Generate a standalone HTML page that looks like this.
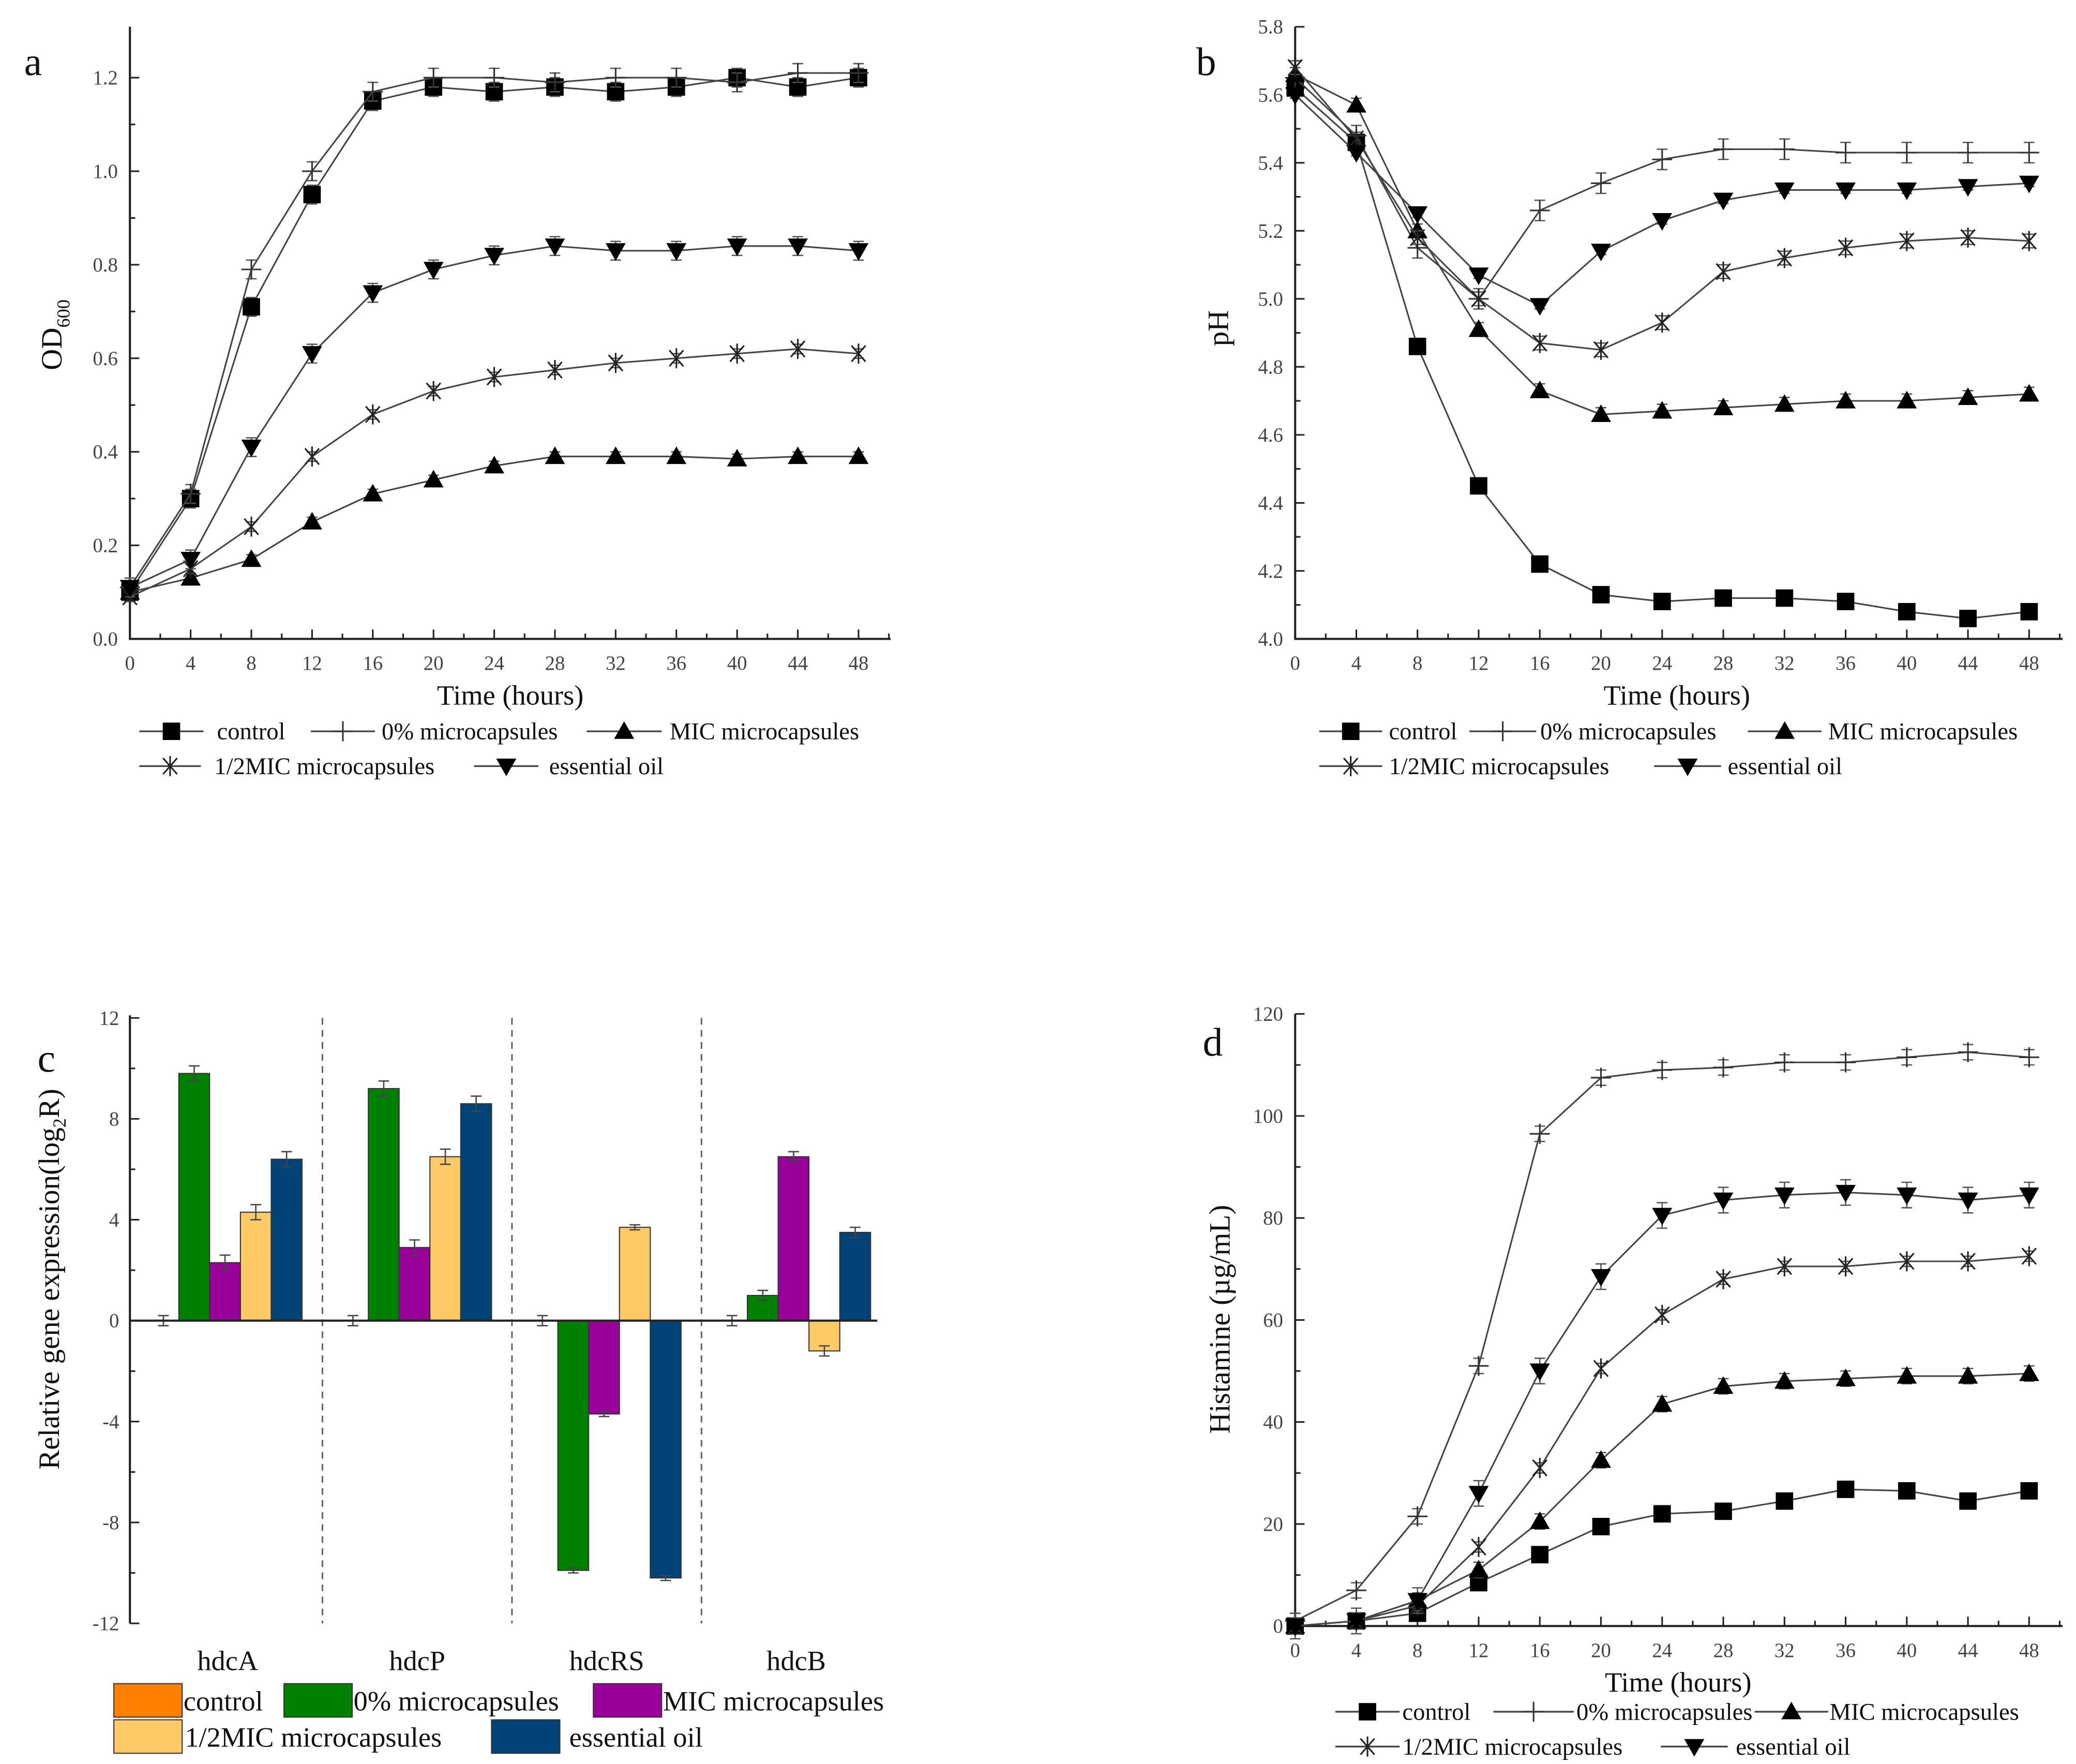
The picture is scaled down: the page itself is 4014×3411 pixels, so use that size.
<!DOCTYPE html>
<html><head><meta charset="utf-8"><style>
html,body{margin:0;padding:0;background:#fff;}
svg{display:block;font-family:"Liberation Serif",serif;}
</style></head><body>
<svg id="fig" width="4014" height="3411" viewBox="0 0 1550 1317" preserveAspectRatio="none" xmlns="http://www.w3.org/2000/svg"></svg>
<script>
// ---- shared data ----
const hours = [0,4,8,12,16,20,24,28,32,36,40,44,48];
const seriesNames = ["control","0% microcapsules","MIC microcapsules","1/2MIC microcapsules","essential oil"];
const markerTypes = ["square","plus","tri","star","down"];
// panel a: OD600
const odControl = [0.10,0.30,0.71,0.95,1.15,1.18,1.17,1.18,1.17,1.18,1.20,1.18,1.20];
const odZero = [0.11,0.31,0.79,1.00,1.17,1.20,1.20,1.19,1.20,1.20,1.19,1.21,1.21];
const odMIC = [0.10,0.13,0.17,0.25,0.31,0.34,0.37,0.39,0.39,0.39,0.385,0.39,0.39];
const odHalf = [0.09,0.15,0.24,0.39,0.48,0.53,0.56,0.575,0.59,0.60,0.61,0.62,0.61];
const odEO = [0.11,0.17,0.41,0.61,0.74,0.79,0.82,0.84,0.83,0.83,0.84,0.84,0.83];
const odErr = [0.02,0.02,0.01,0.01,0.02];
const odTicks = ["0.0","0.2","0.4","0.6","0.8","1.0","1.2"];
// panel b: pH
const phControl = [5.62,5.46,4.86,4.45,4.22,4.13,4.11,4.12,4.12,4.11,4.08,4.06,4.08];
const phZero = [5.65,5.48,5.15,5.00,5.26,5.34,5.41,5.44,5.44,5.43,5.43,5.43,5.43];
const phMIC = [5.66,5.57,5.20,4.91,4.73,4.66,4.67,4.68,4.69,4.70,4.70,4.71,4.72];
const phHalf = [5.68,5.47,5.18,5.00,4.87,4.85,4.93,5.08,5.12,5.15,5.17,5.18,5.17];
const phEO = [5.60,5.43,5.25,5.07,4.98,5.14,5.23,5.29,5.32,5.32,5.32,5.33,5.34];
const phErr = [0.02,0.03,0.02,0.02,0.01];
const phTicks = ["4.0","4.2","4.4","4.6","4.8","5.0","5.2","5.4","5.6","5.8"];
// panel c: gene expression
const genes = ["hdcA","hdcP","hdcRS","hdcB"];
const geneControl = [0,0,0,0];
const geneZero = [9.8,9.2,-9.9,1.0];
const geneMIC = [2.3,2.9,-3.7,6.5];
const geneHalf = [4.3,6.5,3.7,-1.2];
const geneEO = [6.4,8.6,-10.2,3.5];
const geneErr = [0.3,0.3,0.1,0.2];
const geneTicks = [-12,-8,-4,0,4,8,12];
const barColors = ["#FF8000","#008000","#990099","#FFC966","#004477"];
// panel d: histamine
const hisControl = [0,1,2.5,8.5,14,19.5,22,22.5,24.5,26.8,26.5,24.5,26.5];
const hisZero = [1,7,21.5,51,96.5,107.5,109,109.5,110.5,110.5,111.5,112.5,111.5];
const hisMIC = [0,1,5,11,20.5,32.5,43.5,47,48,48.5,49,49,49.5];
const hisHalf = [0,1,4,15.5,31,50.5,61,68,70.5,70.5,71.5,71.5,72.5];
const hisEO = [0,1,5,26,50,68.5,80.5,83.5,84.5,85,84.5,83.5,84.5];
const hisErr = [1,1.5,1.5,1,2.5];
const hisTicks = [0,20,40,60,80,100,120];

const NS="http://www.w3.org/2000/svg";
const svg=document.getElementById('fig');
function mk(tag,attrs,parent){const e=document.createElementNS(NS,tag);for(const k in attrs)e.setAttribute(k,attrs[k]);(parent||svg).appendChild(e);return e;}
function txt(s,x,y,size,anchor,parent,extra){const t=mk('text',Object.assign({x:x,y:y,'font-size':size,'text-anchor':anchor||'start',fill:'#111'},extra||{}),parent);t.textContent=s;return t;}

function marker(type,x,y,g){
  const r=7.5;
  if(type==='square'){const m=mk('rect',{x:x-r+1,y:y-r+1,width:2*r-2,height:2*r-2,fill:'#000'},g);}
  else if(type==='tri'){const m=mk('polygon',{points:`${x},${y-r} ${x-r},${y+r*0.75} ${x+r},${y+r*0.75}`,fill:'#000'},g);}
  else if(type==='down'){const m=mk('polygon',{points:`${x},${y+r} ${x-r},${y-r*0.75} ${x+r},${y-r*0.75}`,fill:'#000'},g);}
  else if(type==='plus'){const m=mk('path',{d:`M${x-r} ${y}H${x+r}M${x} ${y-r}V${y+r}`,stroke:'#333','stroke-width':1.2,fill:'none'},g);}
  else if(type==='star'){const m=mk('path',{d:`M${x} ${y-r}V${y+r}M${x-r*0.7} ${y-r*0.8}L${x+r*0.7} ${y+r*0.8}M${x+r*0.7} ${y-r*0.8}L${x-r*0.7} ${y+r*0.8}`,stroke:'#222','stroke-width':1.2,fill:'none'},g);}
}

function lineChart(cfg){
  const g=mk('g',{});
  
  
  const X=h=>cfg.x0+(h-0)*(cfg.x48-cfg.x0)/48;
  const Y=v=>cfg.y0+(v-cfg.vmin)*(cfg.y1-cfg.y0)/(cfg.vmax-cfg.vmin);
  const ax=mk('path',{d:`M${cfg.x0} ${cfg.ytop}V${cfg.y0}H${cfg.xend}`,stroke:'#222','stroke-width':1.6,fill:'none'},g);
  
  for(let h=0;h<=50;h+=2){const x=X(h);const L=h%4===0?7:4;mk('line',{x1:x,y1:cfg.y0,x2:x,y2:cfg.y0-L,stroke:'#222','stroke-width':1.2},g);}
  hours.forEach(h=>{const t=txt(String(h),X(h),cfg.y0+23,15,'middle',g,{fill:'#444'});});
  cfg.ticks.forEach((lab,i)=>{const v=parseFloat(lab);const y=Y(v);mk('line',{x1:cfg.x0,y1:y,x2:cfg.x0+7,y2:y,stroke:'#222','stroke-width':1.2},g);
    const t=txt(lab,cfg.x0-9,y+5,15,'end',g,{fill:'#444'});
    if(i<cfg.ticks.length-1){const nv=parseFloat(cfg.ticks[i+1]);const my=Y((v+nv)/2);mk('line',{x1:cfg.x0,y1:my,x2:cfg.x0+4,y2:my,stroke:'#222','stroke-width':1.2},g);}
  });
  const xt=txt('Time (hours)',cfg.xtitleX,cfg.y0+49,21,'middle',g);
  cfg.series.forEach((vals,si)=>{
    const sg=mk('g',{},g);
    
    
    const d=vals.map((v,i)=>(i?'L':'M')+X(hours[i])+' '+Y(v)).join('');
    mk('path',{d:d,stroke:'#444','stroke-width':1.2,fill:'none'},sg);
    vals.forEach((v,i)=>{const x=X(hours[i]);const e=cfg.err[si]*(cfg.y1-cfg.y0)/(cfg.vmax-cfg.vmin);
      mk('path',{d:`M${x} ${Y(v)-e}V${Y(v)+e}M${x-4} ${Y(v)-e}H${x+4}M${x-4} ${Y(v)+e}H${x+4}`,stroke:'#555','stroke-width':1},sg);
      marker(markerTypes[si],x,Y(v),sg);});
  });
  cfg.legend.forEach((it,i)=>{
    const lg=mk('g',{},g);
    
    
    mk('line',{x1:it[0],y1:it[1],x2:it[2],y2:it[1],stroke:'#444','stroke-width':1.3},lg);
    marker(markerTypes[i],(it[0]+it[2])/2,it[1],lg);
    txt(seriesNames[i],it[3],it[1]+6,18,'start',lg);
  });
  return g;
}

lineChart({name:'panel-a',x0:97,x48:641,xend:665,y0:477,ytop:20,vmin:0,vmax:1.2,y1:58,ticks:odTicks,
  series:[odControl,odZero,odMIC,odHalf,odEO],err:odErr,xtitleX:381,
  legend:[[104,546,152,162],[232,546,280,285],[438,546,494,500],[104,572,150,160],[354,572,402,410]]});
lineChart({name:'panel-b',x0:967,x48:1515,xend:1540,y0:477,ytop:20,vmin:4.0,vmax:5.8,y1:20,ticks:phTicks,
  series:[phControl,phZero,phMIC,phHalf,phEO],err:phErr,xtitleX:1252,
  legend:[[985,546,1032,1037],[1097,546,1147,1150],[1305,546,1360,1365],[985,572,1032,1037],[1235,572,1285,1290]]});
lineChart({name:'panel-d',x0:967,x48:1515,xend:1540,y0:1214,ytop:757,vmin:0,vmax:120,y1:757,ticks:hisTicks.map(String),
  series:[hisControl,hisZero,hisMIC,hisHalf,hisEO],err:hisErr,xtitleX:1253,
  legend:[[997,1278,1045,1047],[1115,1278,1175,1177],[1310,1278,1365,1366],[997,1304,1045,1047],[1240,1304,1290,1296]]});

function lab(s,x,y,size,name,extra){const t=txt(s,x,y,size,'start',svg,extra);return t;}
lab('a',18,56,30,'panel-label-a');
lab('b',893,56,30,'panel-label-b');
lab('c',28,800,30,'panel-label-c');
lab('d',898,788,30,'panel-label-d');
const odT=mk('text',{x:0,y:0,'font-size':22,transform:'translate(46,250) rotate(-90)','text-anchor':'middle',fill:'#111'});

odT.innerHTML='OD<tspan font-size="14" dy="6">600</tspan>';
const phT=mk('text',{x:0,y:0,'font-size':22,transform:'translate(917,245) rotate(-90)','text-anchor':'middle',fill:'#111'});
phT.textContent='pH';
const hT=mk('text',{x:0,y:0,'font-size':22,transform:'translate(918,985) rotate(-90)','text-anchor':'middle',fill:'#111'});
hT.textContent='Histamine (µg/mL)';
const gT=mk('text',{x:0,y:0,'font-size':22,transform:'translate(44,955) rotate(-90)','text-anchor':'middle',fill:'#111'});

gT.innerHTML='Relative gene expression(log<tspan font-size="14" dy="5">2</tspan><tspan dy="-5">R)</tspan>';

(function(){
  const g=mk('g',{});
  
  
  const x0=97,y12=760,ym12=1212,xend=655;
  const Y=v=>y12+(12-v)*(ym12-y12)/24;
  const groupW=141.5, bw=23, firstCenter=170;
  mk('line',{x1:x0,y1:y12-2,x2:x0,y2:ym12,stroke:'#222','stroke-width':1.6},g);
  geneTicks.forEach((v,i)=>{const y=Y(v);mk('line',{x1:x0,y1:y,x2:x0+7,y2:y,stroke:'#222','stroke-width':1.2},g);
    const t=txt(String(v),x0-8,y+5,15,'end',g,{fill:'#444'});
    if(i<geneTicks.length-1){const my=Y(v+2);mk('line',{x1:x0,y1:my,x2:x0+4,y2:my,stroke:'#222','stroke-width':1.2},g);}});
  for(let k=1;k<genes.length;k++){const x=firstCenter+groupW*(k-0.5);const d=mk('line',{x1:x,y1:y12,x2:x,y2:ym12,stroke:'#666','stroke-width':1.2,'stroke-dasharray':'5,4'},g);}
  const all=[geneControl,geneZero,geneMIC,geneHalf,geneEO];
  genes.forEach((gn,gi)=>{
    const c=firstCenter+groupW*gi;
    all.forEach((vals,si)=>{
      const bx=c-50+si*bw-bw/2+2;const v=vals[gi];
      const y1=Y(Math.max(v,0)),y2=Y(Math.min(v,0));
      const r=mk('rect',{x:bx,y:y1,width:bw,height:Math.max(y2-y1,0.01),fill:barColors[si],stroke:'#333','stroke-width':0.8},g);
      
      
      const e=(si===0?0.2:geneErr[gi])*(ym12-y12)/24;const cx=bx+bw/2;const ye=Y(v);
      mk('path',{d:`M${cx} ${ye-e}V${ye+e}M${cx-4} ${ye-e}H${cx+4}M${cx-4} ${ye+e}H${cx+4}`,stroke:'#444','stroke-width':1},g);
    });
    const t=txt(gn,c,1247,21,'middle',g);
  });
  mk('line',{x1:x0,y1:Y(0),x2:xend,y2:Y(0),stroke:'#222','stroke-width':1.6},g);
  const leg=[[85,1257,137],[212,1257,264],[443,1257,495],[85,1284,138],[367,1284,425]];
  leg.forEach((p,i)=>{const lg=mk('g',{},g);
    
    
    mk('rect',{x:p[0],y:p[1],width:51,height:25,fill:barColors[i],stroke:'#333','stroke-width':0.8},lg);
    txt(seriesNames[i],p[2],p[1]+20,21,'start',lg);});
})();
</script>
</body></html>
